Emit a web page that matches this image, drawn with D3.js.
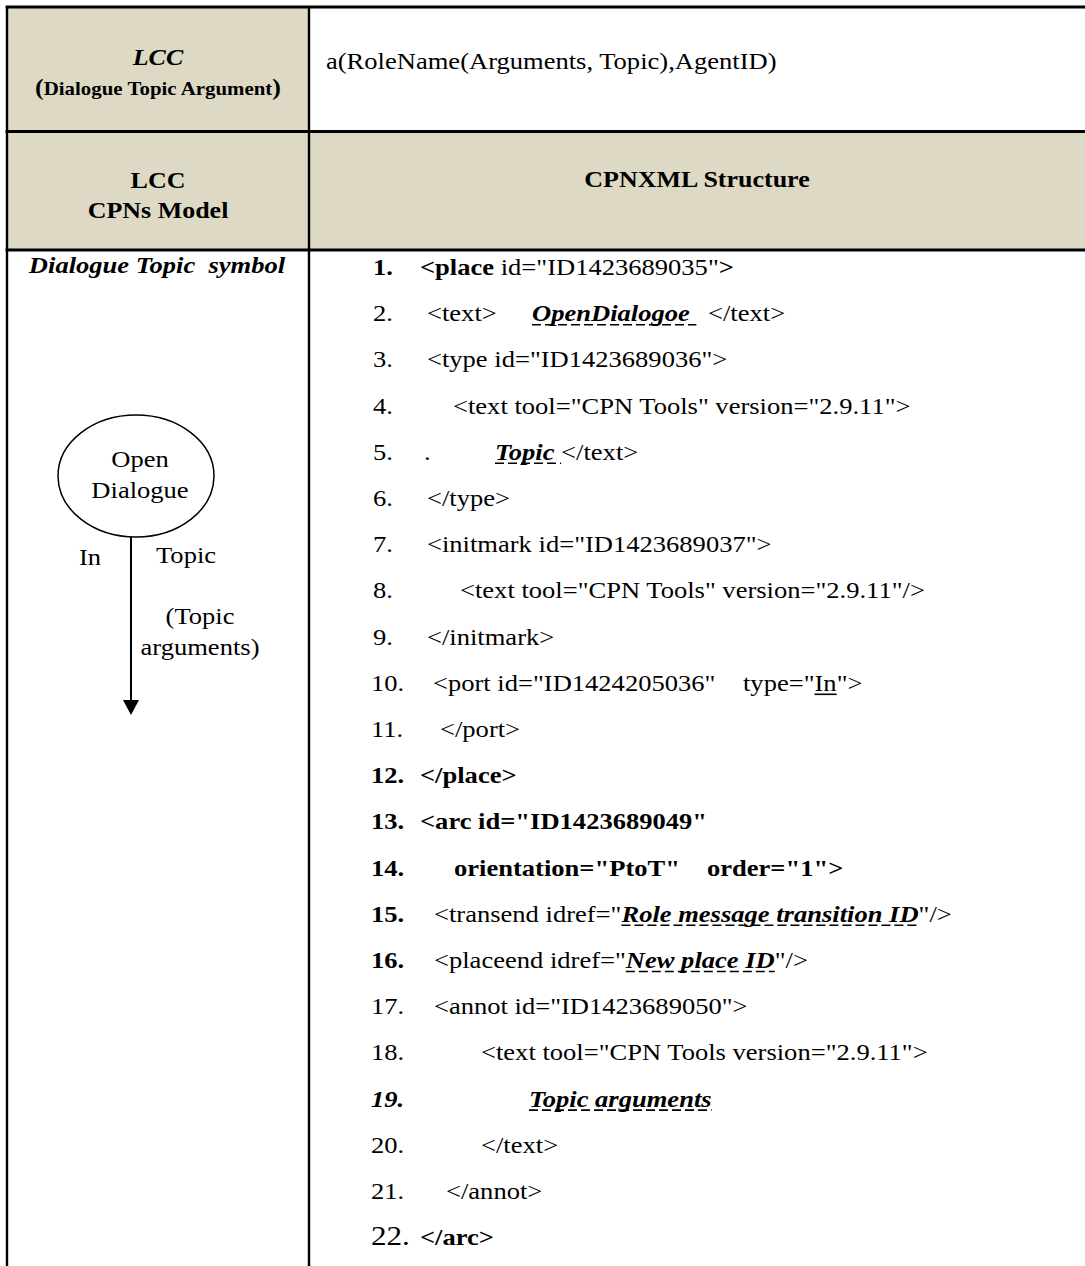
<!DOCTYPE html>
<html><head><meta charset="utf-8">
<script src="https://cdn.jsdelivr.net/npm/d3@7"></script>
<style>
html,body{margin:0;padding:0;background:#fff;}
svg{display:block;}
text{font-family:"Liberation Serif","Times New Roman",serif;white-space:pre;fill:#000;}
</style>
</head><body><div id="chart"></div>
<script>
// ---------- content ----------
const headerTitle = ["LCC", "(Dialogue Topic Argument)"];
const headerFormula = "a(RoleName(Arguments, Topic),AgentID)";
const modelTitle = ["LCC", "CPNs Model"];
const structureTitle = "CPNXML Structure";
const symbolTitle = "Dialogue Topic  symbol";
const placeLabel = ["Open", "Dialogue"];
const portLabel = "In";
const arcVariable = "Topic";
const arcInscription = ["(Topic", "arguments)"];
const lineNumbers = ["1.","2.","3.","4.","5.","6.","7.","8.","9.","10.","11.","12.",
  "13.","14.","15.","16.","17.","18.","19.","20.","21.","22."];
// r=regular b=bold bi=bold italic L=large regular
const lineNumberEmphasis = ["b","r","r","r","r","r","r","r","r","r","r","b",
  "b","b","b","b","r","r","bi","r","r","L"];
// each segment: [text, emphasis]  r=regular b=bold bi=bold italic biu=bold italic dashed-underlined u=underlined
const codeLines = [
  [["<place","b"],[" id=\"ID1423689035\"","r"],[">","b"]],
  [["<text>","r"],["OpenDialogoe ","biu"],["</text>","r"]],
  [["<type id=\"ID1423689036\">","r"]],
  [["<text tool=\"CPN Tools\" version=\"2.9.11\">","r"]],
  [[".","r"],["Topic ","biu"],["</text>","r"]],
  [["</type>","r"]],
  [["<initmark id=\"ID1423689037\">","r"]],
  [["<text tool=\"CPN Tools\" version=\"2.9.11\"/>","r"]],
  [["</initmark>","r"]],
  [["<port id=\"ID1424205036\"","r"],["type=\"","r"],["In","u"],["\">","r"]],
  [["</port>","r"]],
  [["</place>","b"]],
  [["<arc id=\"ID1423689049\"","b"]],
  [["orientation=\"PtoT\"","b"],["order=\"1\">","b"]],
  [["<transend idref=\"","r"],["Role message transition ID","biu"],["\"/>","r"]],
  [["<placeend idref=\"","r"],["New place ID","biu"],["\"/>","r"]],
  [["<annot id=\"ID1423689050\">","r"]],
  [["<text tool=\"CPN Tools version=\"2.9.11\">","r"]],
  [["Topic arguments","biu"]],
  [["</text>","r"]],
  [["</annot>","r"]],
  [["</arc>","b"]]
];

// ---------- layout ----------
const W = 1085, H = 1266;
const FONT = 23.5, SX = 1.13;
const tableLeft = 7, tableTop = 7, colX = 309, row1Y = 131.5, row2Y = 250;
const shade = "#ddd9c4";
const firstBaseline = 275, lineStep = 46.2;
const numberX = [373,373,373,373,373,373,373,373,373,371,371,371,371,371,371,371,371,371,371,371,371,371];
const segmentX = [
  [420,null,null],[427,532,708],[427],[453],[424,495,null],[427],[427],[460],[427],
  [433,743,null,null],[440],[420],[420],[454,707],[434,null,null],[434,null,null],
  [434],[481],[529],[481],[446],[420]
];

const svg = d3.select("#chart").append("svg").attr("width", W).attr("height", H);
svg.append("rect").attr("width", W).attr("height", H).attr("fill", "#fff");

// cell shading
svg.append("rect").attr("x", tableLeft).attr("y", tableTop).attr("width", colX - tableLeft).attr("height", row1Y - tableTop).attr("fill", shade);
svg.append("rect").attr("x", tableLeft).attr("y", row1Y).attr("width", W - tableLeft).attr("height", row2Y - row1Y).attr("fill", shade);

// borders
const borders = svg.append("g").attr("stroke", "#000").attr("stroke-width", 2.8);
borders.append("line").attr("x1", tableLeft - 1.4).attr("x2", W).attr("y1", tableTop).attr("y2", tableTop);
borders.append("line").attr("x1", tableLeft - 1.4).attr("x2", W).attr("y1", row1Y).attr("y2", row1Y);
borders.append("line").attr("x1", tableLeft - 1.4).attr("x2", W).attr("y1", row2Y).attr("y2", row2Y);
borders.append("line").attr("x1", tableLeft).attr("x2", tableLeft).attr("y1", tableTop).attr("y2", H).attr("stroke-width", 2.4);
borders.append("line").attr("x1", colX).attr("x2", colX).attr("y1", tableTop).attr("y2", H).attr("stroke-width", 2.4);

function styleFor(kind) {
  return {
    weight: (kind === "b" || kind === "bi" || kind === "biu") ? "bold" : "normal",
    italic: (kind === "bi" || kind === "biu")
  };
}
function label(x, y, str, kind, size, anchor) {
  const s = styleFor(kind);
  return svg.append("text")
    .attr("transform", `translate(${x},${y}) scale(${SX},1)`)
    .attr("text-anchor", anchor || "start")
    .attr("font-size", size || FONT)
    .attr("font-weight", s.weight)
    .attr("font-style", s.italic ? "italic" : "normal")
    .text(str);
}

// header row 1
label(158, 65, headerTitle[0], "bi", 23, "middle");
{
  const t = svg.append("text")
    .attr("transform", `translate(158,95) scale(${SX},1)`)
    .attr("text-anchor", "middle").attr("font-weight", "bold");
  const inner = headerTitle[1].slice(1, -1);
  t.append("tspan").attr("font-size", 23).text(headerTitle[1][0]);
  t.append("tspan").attr("font-size", 18.5).text(inner);
  t.append("tspan").attr("font-size", 23).text(headerTitle[1].slice(-1));
}
label(326, 69, headerFormula, "r", FONT);

// header row 2
label(158, 188, modelTitle[0], "b", 23, "middle");
label(158, 218, modelTitle[1], "b", 23, "middle");
label((colX + W) / 2, 187, structureTitle, "b", 23, "middle");

// left column
label(157, 273, symbolTitle, "bi", FONT, "middle");
svg.append("ellipse").attr("cx", 136).attr("cy", 476).attr("rx", 78).attr("ry", 61)
  .attr("fill", "none").attr("stroke", "#000").attr("stroke-width", 1.5);
label(140, 467, placeLabel[0], "r", FONT, "middle");
label(140, 498, placeLabel[1], "r", FONT, "middle");
svg.append("line").attr("x1", 131).attr("x2", 131).attr("y1", 537).attr("y2", 702)
  .attr("stroke", "#000").attr("stroke-width", 2);
svg.append("path").attr("d", d3.line()([[123, 700], [139, 700], [131, 715]]) + "Z").attr("fill", "#000");
label(79, 565, portLabel, "r", FONT, "start");
label(156, 563, arcVariable, "r", FONT, "start");
label(200, 624, arcInscription[0], "r", FONT, "middle");
label(200, 655, arcInscription[1], "r", FONT, "middle");

// code lines
const y = d3.scaleLinear().domain([1, 22]).range([firstBaseline, firstBaseline + 21 * lineStep]);
const underlines = svg.append("g").attr("stroke", "#000");

codeLines.forEach((segs, i) => {
  const base = y(i + 1);
  const t = svg.append("text").attr("transform", `translate(0,${base}) scale(${SX},1)`).attr("font-size", FONT);
  const nk = lineNumberEmphasis[i];
  const ns = styleFor(nk);
  t.append("tspan").attr("x", numberX[i] / SX)
    .attr("font-weight", ns.weight).attr("font-style", ns.italic ? "italic" : "normal")
    .attr("font-size", nk === "L" ? 27.5 : FONT)
    .text(lineNumbers[i]);
  segs.forEach((seg, j) => {
    const s = styleFor(seg[1]);
    const ts = t.append("tspan")
      .attr("font-size", FONT)
      .attr("font-weight", s.weight).attr("font-style", s.italic ? "italic" : "normal")
      .text(seg[0]);
    const sx = segmentX[i][j];
    if (sx != null) ts.attr("x", sx / SX);
    if (seg[1] === "biu" || seg[1] === "u") {
      const node = ts.node();
      const p = node.getStartPositionOfChar(0);
      const len = node.getComputedTextLength();
      const x0 = p.x * SX, x1 = (p.x + len) * SX;
      underlines.append("line").attr("x1", x0).attr("x2", x1)
        .attr("y1", base + 3.5).attr("y2", base + 3.5)
        .attr("stroke-width", 1.6)
        .attr("stroke-dasharray", seg[1] === "biu" ? "9 4" : null);
    }
  });
});
</script>
</body></html>
